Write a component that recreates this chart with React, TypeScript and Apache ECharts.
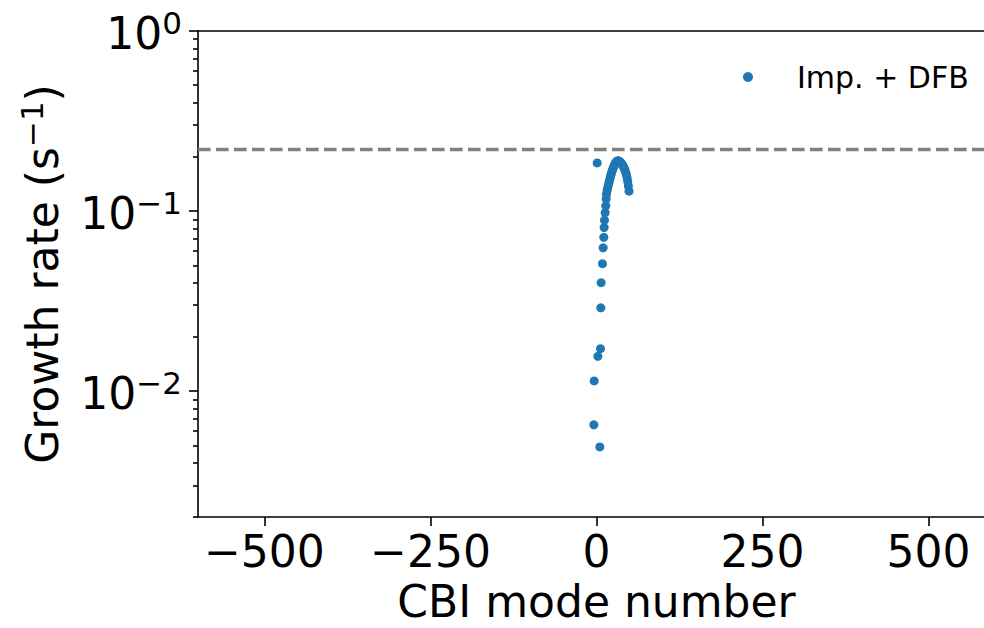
import React, { useEffect, useRef } from "react";
import * as echarts from "echarts";

// CBI mode numbers and growth rates (s^-1)
const modeNumbers: number[] = [
  1, 5, -4, -3.5, 2, 6, 6.5, 7, 9, 10, 11, 11.5, 12, 13, 14, 14.6,
  15, 16, 17, 18, 19, 20, 21, 22, 23, 24, 25, 26, 27, 28, 29, 30, 31, 32,
  33, 34, 35, 36, 37, 38, 39, 40, 41, 42, 43, 44, 45, 46, 47, 48, 49,
];
const growthRates: number[] = [
  0.185, 0.0049, 0.0065, 0.0114, 0.0156, 0.0172, 0.029, 0.040, 0.051, 0.0625, 0.0715, 0.081, 0.089, 0.098, 0.107, 0.1166,
  0.124, 0.13, 0.135, 0.14, 0.145, 0.15, 0.155, 0.16, 0.165, 0.169, 0.173, 0.177, 0.18, 0.183, 0.186, 0.188, 0.189, 0.19,
  0.19, 0.189, 0.188, 0.187, 0.185, 0.183, 0.181, 0.178, 0.175, 0.172, 0.168, 0.164, 0.159, 0.153, 0.146, 0.138, 0.129,
];
const thresholdRate = 0.224;
const xTicks: number[] = [-500, -250, 0, 250, 500];
const yMajorTicks: number[] = [0.01, 0.1, 1];
const yMinorTicks: number[] = [
  0.002, 0.003, 0.004, 0.005, 0.006, 0.007, 0.008, 0.009,
  0.02, 0.03, 0.04, 0.05, 0.06, 0.07, 0.08, 0.09,
  0.2, 0.3, 0.4, 0.5, 0.6, 0.7, 0.8, 0.9,
];
const seriesName = "Imp. + DFB";

const FONT = "DejaVu Sans";

export default function App() {
  const ref = useRef<HTMLDivElement>(null);
  useEffect(() => {
    if (!ref.current) return;
    const chart = echarts.init(ref.current, undefined, { renderer: "svg" });
    const axisLineStyle = { color: "#000", width: 1.6 };
    const richStyles = {
      b: { fontSize: 44, lineHeight: 48, verticalAlign: "bottom", color: "#000", fontFamily: FONT },
      s: { fontSize: 31, lineHeight: 32, verticalAlign: "top", color: "#000", fontFamily: FONT },
    };
    chart.setOption({
      animation: false,
      textStyle: { fontFamily: FONT },
      grid: { left: 198, right: 5, top: 31, bottom: 111, containLabel: false },
      legend: {
        data: [{ name: seriesName, icon: "circle" }],
        left: 738,
        top: 57,
        itemWidth: 10,
        itemHeight: 10,
        textStyle: { fontSize: 30, color: "#000", fontFamily: FONT, padding: [0, 0, 0, 39] },
      },
      xAxis: [
        {
          type: "value",
          min: -600,
          max: 600,
          position: "bottom",
          axisLine: { show: true, onZero: false, lineStyle: axisLineStyle },
          axisTick: { show: true, length: 9, customValues: xTicks, lineStyle: axisLineStyle },
          axisLabel: {
            customValues: xTicks,
            fontSize: 44,
            color: "#000",
            fontFamily: FONT,
            margin: 12,
            formatter: (v: number) => (v < 0 ? "\u2212" + Math.abs(v) : String(v)),
          },
          splitLine: { show: false },
          name: "CBI mode number",
          nameLocation: "middle",
          nameGap: 62,
          nameTextStyle: { fontSize: 44, color: "#000", fontFamily: FONT },
        },
        {
          type: "value",
          min: -600,
          max: 600,
          position: "top",
          axisLine: { show: true, onZero: false, lineStyle: axisLineStyle },
          axisTick: { show: false },
          axisLabel: { show: false },
          splitLine: { show: false },
        },
      ],
      yAxis: [
        {
          type: "log",
          logBase: 10,
          min: 0.002,
          max: 1,
          position: "left",
          axisLine: { show: true, onZero: false, lineStyle: axisLineStyle },
          axisTick: { show: true, length: 9, customValues: yMajorTicks, lineStyle: axisLineStyle },
          axisLabel: {
            customValues: yMajorTicks,
            margin: 16,
            color: "#000",
            fontFamily: FONT,
            formatter: (v: number) => {
              const e = Math.round(Math.log10(v));
              const s = e < 0 ? "\u2212" + Math.abs(e) : String(e);
              return "{b|10}{s|" + s + "}";
            },
            rich: richStyles,
          },
          splitLine: { show: false },
          minorTick: { show: false },
          name: "{b|Growth rate (s}{s|\u22121}{b|)}",
          nameLocation: "middle",
          nameGap: 134,
          nameTextStyle: { color: "#000", fontFamily: FONT, rich: richStyles },
        },
        {
          type: "log",
          logBase: 10,
          min: 0.002,
          max: 1,
          position: "left",
          axisLine: { show: false, onZero: false },
          axisTick: { show: true, length: 5, customValues: yMinorTicks, lineStyle: axisLineStyle },
          axisLabel: { show: false },
          splitLine: { show: false },
          minorTick: { show: false },
        },
      ],
      series: [
        {
          name: seriesName,
          type: "scatter",
          xAxisIndex: 0,
          yAxisIndex: 0,
          symbol: "circle",
          symbolSize: 9,
          itemStyle: { color: "#1f77b4", opacity: 1 },
          data: modeNumbers.map((m, i) => [m, growthRates[i]]),
          markLine: {
            silent: true,
            symbol: ["none", "none"],
            label: { show: false },
            lineStyle: { color: "#808080", width: 3.4, type: [12.6, 5.4] },
            data: [{ yAxis: thresholdRate }],
          },
        },
      ],
    });
    return () => chart.dispose();
  }, []);
  return (
    <div
      style={{
        position: "fixed",
        left: 0,
        top: 0,
        width: 984,
        height: 628,
        overflow: "hidden",
        background: "#fff",
      }}
    >
      <div ref={ref} style={{ width: 1000, height: 628 }} />
    </div>
  );
}
